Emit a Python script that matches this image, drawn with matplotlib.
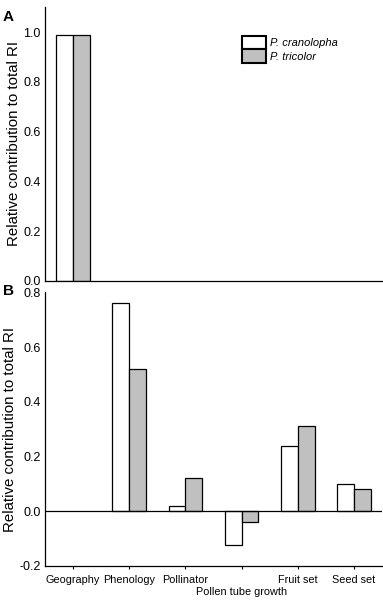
import numpy as np
import matplotlib.pyplot as plt

plt.rcParams['font.family'] = ['Liberation Sans', 'DejaVu Sans']

categories = ['Geography', 'Phenology', 'Pollinator', 'Pollen tube growth', 'Fruit set', 'Seed set']
species = ['P. cranolopha', 'P. tricolor']

# panel A: geography only
geo_cranolopha = [0.99]
geo_tricolor = [0.99]

# panel B: remaining barriers
cranolopha = np.array([0.0, 0.76, 0.02, -0.125, 0.24, 0.10])
tricolor = np.array([0.0, 0.52, 0.12, -0.04, 0.31, 0.08])

white = 'white'
grey = '#c0c0c0'
w = 0.3

fig = plt.figure(figsize=(3.83, 6.0), dpi=100)
axA = fig.add_axes([0.1175, 0.532, 0.88, 0.456])
axB = fig.add_axes([0.1175, 0.0567, 0.88, 0.456])

x = np.arange(len(categories))

# panel A
axA.bar(x[:1] - w / 2, geo_cranolopha, w, color=white, edgecolor='black', linewidth=0.9, label=species[0])
axA.bar(x[:1] + w / 2, geo_tricolor, w, color=grey, edgecolor='black', linewidth=0.9, label=species[1])
axA.set_xlim(-0.5, 5.5)
axA.set_ylim(0, 1.1)
axA.set_yticks([0.0, 0.2, 0.4, 0.6, 0.8, 1.0])
axA.set_yticklabels(['0.0', '0.2', '0.4', '0.6', '0.8', '1.0'])
axA.set_xticks([])

# panel B (zero-valued bars are not drawn)
m1 = cranolopha != 0
m2 = tricolor != 0
axB.bar(x[m1] - w / 2, cranolopha[m1], w, color=white, edgecolor='black', linewidth=0.9)
axB.bar(x[m2] + w / 2, tricolor[m2], w, color=grey, edgecolor='black', linewidth=0.9)
axB.axhline(0, color='black', linewidth=0.9)
axB.set_xlim(-0.5, 5.5)
axB.set_ylim(-0.2, 0.8)
axB.set_yticks([-0.2, 0.0, 0.2, 0.4, 0.6, 0.8])
axB.set_yticklabels(['-0.2', '0.0', '0.2', '0.4', '0.6', '0.8'])
axB.set_xticks(x)
labels = [c if i != 3 else '' for i, c in enumerate(categories)]
axB.set_xticklabels(labels, fontsize=7.8)
axB.tick_params(axis='x', length=2.5, width=0.8, pad=4)
# the long label sits on a second line, below the others
axB.annotate(categories[3], xy=(x[3], -0.2), xycoords='data', xytext=(0, -21),
             textcoords='offset pixels', fontsize=7.8, ha='center', va='top',
             annotation_clip=False)

for ax in (axA, axB):
    ax.spines['top'].set_visible(False)
    ax.spines['right'].set_visible(False)
    ax.spines['left'].set_linewidth(0.9)
    ax.spines['bottom'].set_linewidth(0.9)
    ax.tick_params(axis='y', length=0, labelsize=9, pad=3)
    ax.set_ylabel('Relative contribution to total RI', fontsize=10.8, labelpad=2)

leg = axA.legend(loc='upper left', bbox_to_anchor=(0.584, 0.894), frameon=False,
                 fontsize=8, handlelength=2.2, handleheight=1.45, handletextpad=0.3,
                 labelspacing=0.0, borderpad=0.0, borderaxespad=0.0)
for t in leg.get_texts():
    t.set_fontstyle('italic')
for h in leg.legend_handles:
    h.set_linewidth(1.5)

fig.text(0.008, 0.983, 'A', fontsize=11, fontweight='bold', va='top')
fig.text(0.008, 0.527, 'B', fontsize=11, fontweight='bold', va='top')

fig.savefig('out.png', dpi=100)
